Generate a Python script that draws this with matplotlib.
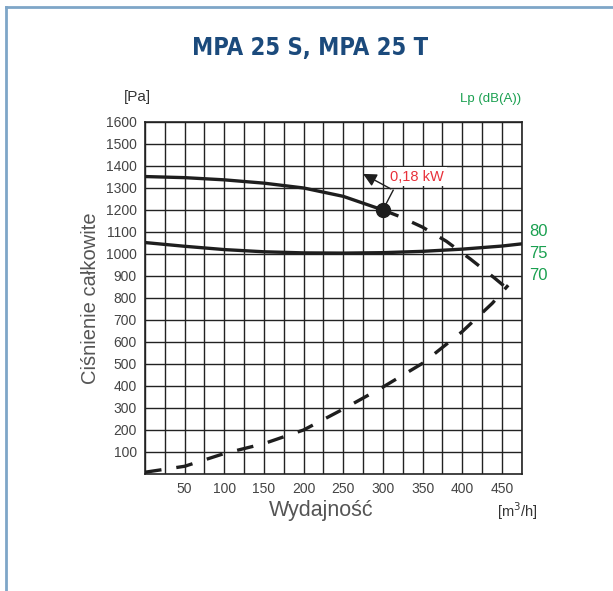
import numpy as np
import matplotlib
matplotlib.use("Agg")
import matplotlib.pyplot as plt
from matplotlib.lines import Line2D

plt.rcParams['font.family'] = ['Liberation Sans', 'DejaVu Sans']

# fan curve, solid part (m3/h, Pa)
fan_q = [0, 50, 100, 150, 200, 250, 300]
fan_p = [1352, 1347, 1337, 1322, 1300, 1262, 1200]
# fan curve, dashed continuation
fan2_q = [300, 320, 350, 380, 410, 440, 455]
fan2_p = [1200, 1172, 1122, 1058, 978, 893, 848]
# system curve (dashed)
sys_q = [0, 50, 100, 150, 200, 250, 300, 350, 400, 438, 458]
sys_p = [8, 35, 93, 138, 200, 295, 395, 503, 647, 776, 858]
# sound level curve
lp_q = [0, 50, 100, 150, 200, 250, 300, 350, 400, 450, 475]
lp_p = [1052, 1035, 1020, 1010, 1005, 1004, 1006, 1012, 1022, 1036, 1046]

lp_labels = ['80', '75', '70']
lp_levels = [1100, 1000, 900]
x_ticks = [50, 100, 150, 200, 250, 300, 350, 400, 450]
y_ticks = list(range(100, 1700, 100))

fig = plt.figure(figsize=(6.13, 5.91), dpi=100)
ax = fig.add_axes([0.2365, 0.198, 0.6145, 0.5956])

# light blue frame (left and top)
fig.add_artist(Line2D([0.0098, 0.0098], [0, 0.988], color='#7ea6c8', lw=2))
fig.add_artist(Line2D([0.0098, 1.0], [0.988, 0.988], color='#7ea6c8', lw=2))

ax.set_xlim(0, 475)
ax.set_ylim(0, 1600)
ax.set_xticks(np.arange(0, 476, 25), minor=True)
ax.set_xticks(x_ticks)
ax.set_yticks(y_ticks)
ax.grid(True, which='both', color='#222222', lw=1.0)
ax.tick_params(which='both', length=0, labelsize=10, labelcolor='#444444', pad=6)
for s in ax.spines.values():
    s.set_color('#222222')
    s.set_linewidth(1.2)

ax.plot(fan_q, fan_p, color='#1e1e1e', lw=2.4, zorder=3)
ax.plot(fan2_q, fan2_p, color='#1e1e1e', lw=2.4, dashes=(5, 4.5), zorder=3)
ax.plot(sys_q, sys_p, color='#1e1e1e', lw=2.4, dashes=(5, 4.5), zorder=3)
ax.plot(lp_q, lp_p, color='#1e1e1e', lw=2.4, zorder=3)
ax.plot([300], [1200], 'o', color='#1e1e1e', ms=10, zorder=4)

# leader to power label
ax.plot([300, 313], [1200, 1290], color='#1e1e1e', lw=1.0, zorder=4)
ax.annotate('', xy=(272, 1370), xytext=(313, 1290),
            arrowprops=dict(arrowstyle='-|>', color='#1e1e1e', lw=1.0,
                            mutation_scale=20), zorder=4)
ax.text(343, 1352, '0,18 kW', color='#e8303a', fontsize=10.5, ha='center', va='center',
        bbox=dict(facecolor='white', edgecolor='none', pad=2), zorder=5)

for lab, lv in zip(lp_labels, lp_levels):
    ax.text(485, lv, lab, color='#1aa050', fontsize=12, ha='left', va='center')
ax.text(436, 1675, 'Lp (dB(A))', color='#1aa050', fontsize=9.5, ha='center', va='bottom',
        clip_on=False)

ax.text(-10, 1680, '[Pa]', color='#333333', fontsize=11, ha='center', va='bottom')
ax.set_ylabel('Ciśnienie całkowite', fontsize=14.5, color='#555555', labelpad=4)
ax.text(222, -120, 'Wydajność', fontsize=15.5, color='#555555', ha='center', va='top')
ax.text(470, -120, '[m$^3$/h]', color='#333333', fontsize=10.5, ha='center', va='top')

fig.text(0.505, 0.918, 'MPA 25 S, MPA 25 T', color='#1b4a7c', fontsize=17,
         fontweight='bold', ha='center', va='center',
         family=['Liberation Sans Narrow', 'DejaVu Sans'], fontstretch='condensed')

fig.savefig('out.png', dpi=100)
